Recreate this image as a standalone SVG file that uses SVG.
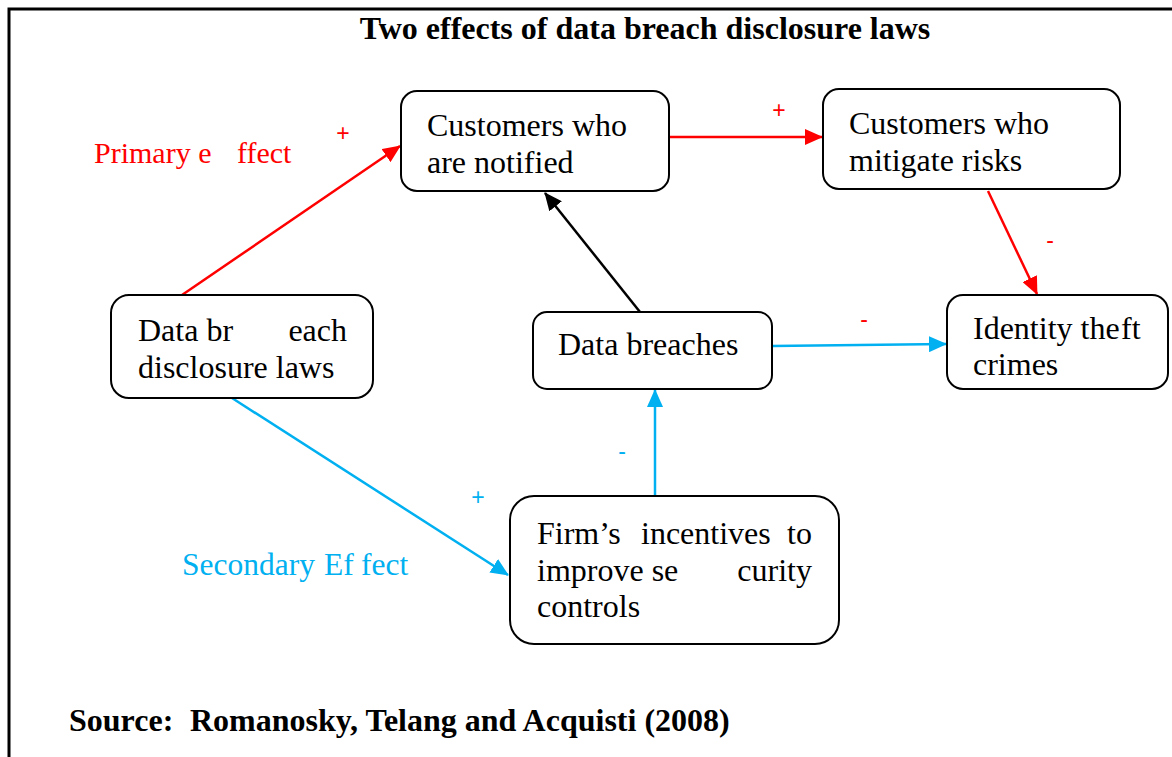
<svg xmlns="http://www.w3.org/2000/svg" width="1172" height="757" viewBox="0 0 1172 757">
<style>
.t{font-family:"Liberation Serif","Times New Roman",serif;font-size:32px;fill:#000}
.b{font-weight:bold}
.box{fill:#fff;stroke:#000;stroke-width:2}
.red{stroke:#ff0000;stroke-width:2.5;fill:none}
.blue{stroke:#00b0f0;stroke-width:2.5;fill:none}
.blk{stroke:#000;stroke-width:2.5;fill:none}
.sg{font-family:"Liberation Sans",Arial,sans-serif;font-size:23px;text-anchor:middle}
</style>
<defs>
<marker id="ar" markerUnits="userSpaceOnUse" markerWidth="18" markerHeight="16" refX="17" refY="8" orient="auto"><path d="M0,0 L18,8 L0,16 z" fill="#ff0000"/></marker>
<marker id="ab" markerUnits="userSpaceOnUse" markerWidth="18" markerHeight="16" refX="17" refY="8" orient="auto"><path d="M0,0 L18,8 L0,16 z" fill="#00b0f0"/></marker>
<marker id="ak" markerUnits="userSpaceOnUse" markerWidth="18" markerHeight="16" refX="17" refY="8" orient="auto"><path d="M0,0 L18,8 L0,16 z" fill="#000"/></marker>
</defs>
<rect width="1172" height="757" fill="#fff"/>
<path d="M9,757 V9 H1172" fill="none" stroke="#000" stroke-width="3"/>
<text class="t b" x="645" y="39" text-anchor="middle">Two effects of data breach disclosure laws</text>

<g id="connectors">
<line class="red" x1="182" y1="295" x2="400" y2="146" marker-end="url(#ar)"/>
<line class="red" x1="669" y1="137" x2="822" y2="137" marker-end="url(#ar)"/>
<line class="red" x1="988" y1="191" x2="1037" y2="294" marker-end="url(#ar)"/>
<line class="blk" x1="640" y1="312" x2="545" y2="193" marker-end="url(#ak)"/>
<line class="blue" x1="772" y1="346" x2="946" y2="344" marker-end="url(#ab)"/>
<line class="blue" x1="655" y1="496" x2="655" y2="390" marker-end="url(#ab)"/>
<line class="blue" x1="232" y1="398" x2="508" y2="575" marker-end="url(#ab)"/>
<text class="sg" x="343" y="141" fill="#ff0000">+</text>
<text class="sg" x="779" y="118" fill="#ff0000">+</text>
<text class="sg" x="1050" y="248" fill="#ff0000">-</text>
<text class="sg" x="864" y="327" fill="#ff0000">-</text>
<text class="sg" x="622" y="459" fill="#00b0f0">-</text>
<text class="sg" x="478" y="505" fill="#00b0f0">+</text>
</g>

<g id="labels">
<text class="t" y="163" style="font-size:30px;fill:#ff0000"><tspan x="94">Primary e</tspan><tspan x="237">ffect</tspan></text>
<text class="t" y="575" style="font-size:31.5px;fill:#00b0f0"><tspan x="182">Secondary</tspan><tspan x="324">Ef</tspan><tspan x="361">fect</tspan></text>
</g>

<g id="n-notified">
<rect class="box" x="401" y="91" width="268" height="100" rx="16"/>
<text class="t" x="427" y="136">Customers who</text>
<text class="t" x="427" y="173">are notified</text>
</g>

<g id="n-mitigate">
<rect class="box" x="823" y="89" width="297" height="100" rx="16"/>
<text class="t" x="849" y="134">Customers who</text>
<text class="t" x="849" y="171">mitigate risks</text>
</g>

<g id="n-identity">
<rect class="box" x="947" y="295" width="221" height="94" rx="16"/>
<text class="t" y="339"><tspan x="973">Identity the</tspan><tspan x="1121">ft</tspan></text>
<text class="t" x="973" y="375">crimes</text>
</g>

<g id="n-laws">
<rect class="box" x="111" y="295" width="262" height="103" rx="18"/>
<text class="t" y="341"><tspan x="138">Data br</tspan><tspan x="347" text-anchor="end">each</tspan></text>
<text class="t" x="138" y="378">disclosure laws</text>
</g>

<g id="n-breaches">
<rect class="box" x="533" y="312" width="239" height="77" rx="14"/>
<text class="t" x="558" y="355">Data breaches</text>
</g>

<g id="n-firm">
<rect class="box" x="510" y="496" width="329" height="148" rx="24"/>
<text class="t" y="544"><tspan x="537">Firm’s</tspan><tspan x="641">incentives</tspan><tspan x="812" text-anchor="end">to</tspan></text>
<text class="t" y="581"><tspan x="537">improve se</tspan><tspan x="812" text-anchor="end">curity</tspan></text>
<text class="t" x="537" y="617">controls</text>
</g>

<text class="t b" y="731"><tspan x="69">Source:</tspan><tspan x="190">Romanosky, Telang and Acquisti (2008)</tspan></text>
</svg>
